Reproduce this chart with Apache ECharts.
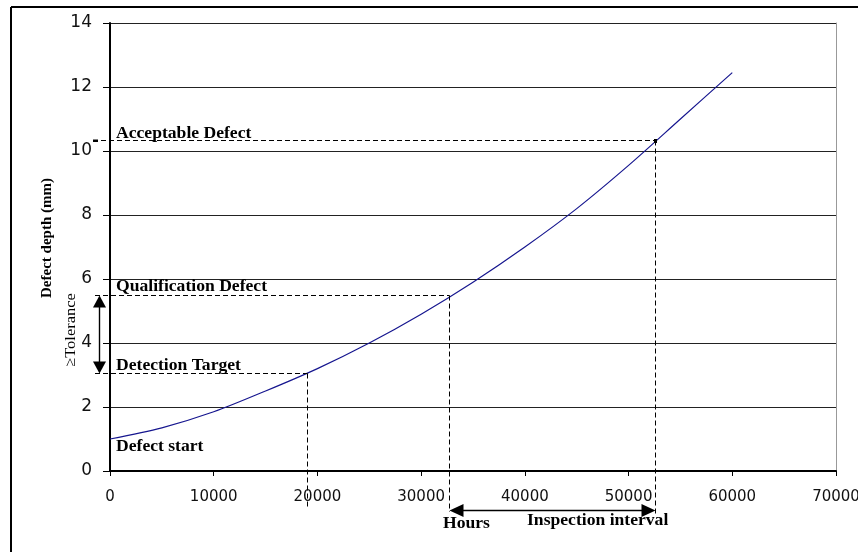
<!DOCTYPE html>
<html>
<head>
<meta charset="utf-8">
<title>Defect depth vs hours</title>
<script src="https://cdn.jsdelivr.net/npm/echarts@6/dist/echarts.min.js"></script>
<style>
  html, body { margin: 0; padding: 0; background: #fff; }
  #main { width: 858px; height: 552px; }
</style>
</head>
<body>
<div id="main"></div>
<script>
// data
var hours = [0, 5000, 10000, 15000, 20000, 25000, 30000, 35000, 40000, 45000, 50000, 55000, 60000];
var depth = [1.0, 1.35, 1.85, 2.5, 3.2, 4.0, 4.9, 5.9, 7.0, 8.2, 9.55, 11.0, 12.45];

// guide points on the curve (hours, depth)
var detectionPt = [19000, 3.05];
var qualificationPt = [32700, 5.5];
var acceptablePt = [52500, 10.35];

var serif = '"Liberation Serif", "Times New Roman", serif';
var sans = '"DejaVu Sans", Arial, sans-serif';

var chart = echarts.init(document.getElementById('main'));

var option = {
  animation: false,
  backgroundColor: '#fff',
  grid: { left: 110, right: 22, top: 23, bottom: 81, outerBoundsMode: 'none', containLabel: false },
  xAxis: {
    type: 'value',
    min: 0, max: 70000, interval: 10000,
    axisLine: { lineStyle: { color: '#000', width: 2 } },
    axisTick: { show: true, length: 5, lineStyle: { color: '#000' } },
    axisLabel: {
      color: '#111', fontSize: 15, fontFamily: sans, margin: 19,
      formatter: function (v) { return String(v); }
    },
    splitLine: { show: false }
  },
  yAxis: [{
    type: 'value',
    min: 0, max: 14, interval: 2,
    axisLine: { show: true, lineStyle: { color: '#000', width: 2 } },
    axisTick: { show: true, length: 7, lineStyle: { color: '#000' } },
    axisLabel: { color: '#111', fontSize: 17, fontFamily: sans, margin: 18 },
    splitLine: { show: true, lineStyle: { color: '#222', width: 1 } }
  }, {
    type: 'value',
    position: 'right',
    min: 0, max: 14, interval: 2,
    axisLine: { show: true, lineStyle: { color: '#999', width: 1 } },
    axisTick: { show: false },
    axisLabel: { show: false },
    splitLine: { show: false }
  }],
  series: [{
    type: 'line',
    data: hours.map(function (h, i) { return [h, depth[i]]; }),
    smooth: 0.3,
    symbol: 'none',
    lineStyle: { color: '#16168f', width: 1.2 },
    z: 3
  }]
};

chart.setOption(option);

function px(p) {
  var q = chart.convertToPixel({ gridIndex: 0 }, p);
  return [Math.round(q[0]) + 0.5, Math.round(q[1]) + 0.5];
}

var dash = { stroke: '#000', lineWidth: 1, lineDash: [5, 3] };
var g = [];

// outer frame (only top and left visible)
g.push({ type: 'line', shape: { x1: 11, y1: 7, x2: 860, y2: 7 }, style: { stroke: '#000', lineWidth: 2 } });
g.push({ type: 'line', shape: { x1: 11, y1: 7, x2: 11, y2: 560 }, style: { stroke: '#000', lineWidth: 2 } });

var pD = px(detectionPt), pQ = px(qualificationPt), pA = px(acceptablePt);

// dashed guides
g.push({ type: 'line', shape: { x1: 95, y1: pD[1], x2: pD[0], y2: pD[1] }, style: dash, z: 5 });
g.push({ type: 'line', shape: { x1: pD[0], y1: pD[1], x2: pD[0], y2: 507 }, style: dash, z: 5 });
g.push({ type: 'line', shape: { x1: 95, y1: pQ[1], x2: pQ[0], y2: pQ[1] }, style: dash, z: 5 });
g.push({ type: 'line', shape: { x1: pQ[0], y1: pQ[1], x2: pQ[0], y2: 512 }, style: dash, z: 5 });
g.push({ type: 'line', shape: { x1: 93, y1: pA[1], x2: pA[0], y2: pA[1] }, style: dash, z: 5 });
g.push({ type: 'line', shape: { x1: pA[0], y1: pA[1], x2: pA[0], y2: 515 }, style: dash, z: 5 });
g.push({ type: 'rect', shape: { x: pA[0] - 1.5, y: pA[1] - 1.5, width: 3, height: 4 }, style: { fill: '#000' }, z: 5 });
g.push({ type: 'rect', shape: { x: 93, y: pA[1] - 1, width: 5, height: 2.5 }, style: { fill: '#000' }, z: 5 });

// vertical tolerance arrow
var ax = 99.5;
g.push({ type: 'line', shape: { x1: ax, y1: pQ[1] + 8, x2: ax, y2: pD[1] - 8 }, style: { stroke: '#000', lineWidth: 1.4 }, z: 5 });
g.push({ type: 'polygon', shape: { points: [[ax, pQ[1]], [ax - 6.5, pQ[1] + 12], [ax + 6.5, pQ[1] + 12]] }, style: { fill: '#000' }, z: 5 });
g.push({ type: 'polygon', shape: { points: [[ax, pD[1]], [ax - 6.5, pD[1] - 12], [ax + 6.5, pD[1] - 12]] }, style: { fill: '#000' }, z: 5 });

// horizontal inspection interval arrow
var ay = 510.5;
g.push({ type: 'line', shape: { x1: pQ[0] + 8, y1: ay, x2: pA[0] - 8, y2: ay }, style: { stroke: '#000', lineWidth: 1.4 }, z: 5 });
g.push({ type: 'polygon', shape: { points: [[pQ[0], ay], [pQ[0] + 14, ay - 6.5], [pQ[0] + 14, ay + 6.5]] }, style: { fill: '#000' }, z: 5 });
g.push({ type: 'polygon', shape: { points: [[pA[0], ay], [pA[0] - 14, ay - 6.5], [pA[0] - 14, ay + 6.5]] }, style: { fill: '#000' }, z: 5 });

// annotation texts
function label(txt, x, y, opts) {
  opts = opts || {};
  return {
    type: 'text',
    x: x, y: y,
    rotation: opts.rotation || 0,
    scaleX: opts.scaleX || 1.1,
    z: 6,
    style: {
      text: txt,
      x: 0, y: 0,
      fill: '#000',
      font: (opts.weight || 'bold') + ' ' + (opts.size || 16) + 'px ' + serif,
      align: opts.align || 'left',
      verticalAlign: 'middle'
    }
  };
}

g.push(label('Acceptable Defect', 116, 134));
g.push(label('Qualification Defect', 116, 287));
g.push(label('Detection Target', 116, 366));
g.push(label('Defect start', 116, 447));
g.push(label('Hours', 443, 524));
g.push(label('Inspection interval', 527, 521));
g.push(label('Defect depth (mm)', 47, 238, { rotation: Math.PI / 2, align: 'center', size: 15, scaleX: 1 }));
g.push(label('\u2265Tolerance', 71, 330, { rotation: Math.PI / 2, align: 'center', size: 15, weight: 'normal', scaleX: 1.1 }));

chart.setOption({ graphic: g });
</script>
</body>
</html>
